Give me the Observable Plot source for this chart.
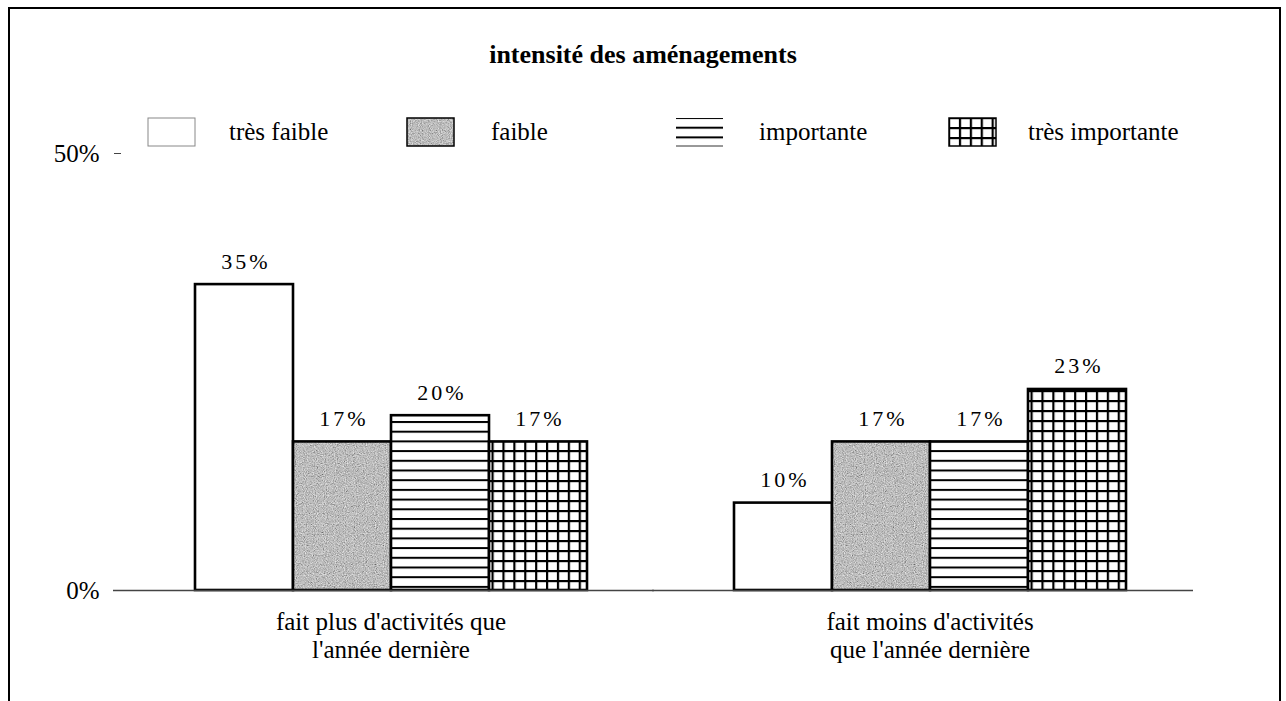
<!DOCTYPE html>
<html><head><meta charset="utf-8">
<script src="https://cdn.jsdelivr.net/npm/d3@7"></script>
<script src="https://cdn.jsdelivr.net/npm/@observablehq/plot@0.6"></script>
<style>
html,body{margin:0;padding:0;background:#fff;}
body{width:1286px;height:701px;overflow:hidden;position:relative;font-family:"Liberation Serif",serif;}
#frame{position:absolute;left:8px;top:7px;width:1269px;height:720px;border:2px solid #000;border-bottom:none;}
#title{position:absolute;left:0;top:40px;width:1286px;text-align:center;font-weight:bold;font-size:26px;line-height:30px;}
#legend{position:absolute;left:0;top:0;width:1286px;height:130px;}
.lg{position:absolute;font-size:25px;line-height:29px;white-space:nowrap;}
.sw{position:absolute;}
#chart{position:absolute;left:0;top:130px;}
</style></head>
<body>
<div id="frame"></div>
<div id="title">intensité des aménagements</div>
<div id="legend"></div>
<div id="chart"></div>
<script>
const categories = ["fait plus d'activités que\nl'année dernière", "fait moins d'activités\nque l'année dernière"];
const intensities = ["très faible", "faible", "importante", "très importante"];
const valuesPlus = [35, 17, 20, 17];
const valuesMoins = [10, 17, 17, 23];
const yTicks = [0, 50];

const data = [];
intensities.forEach((k, i) => data.push({cat: categories[0], intensity: k, value: valuesPlus[i]}));
intensities.forEach((k, i) => data.push({cat: categories[1], intensity: k, value: valuesMoins[i]}));

const patternIds = ["url(#p-white)", "url(#p-gray)", "url(#p-hlines)", "url(#p-grid)"];

const defs = `
<defs>
 <filter id="noise" x="0" y="0" width="100%" height="100%">
  <feTurbulence type="fractalNoise" baseFrequency="0.9" numOctaves="2" seed="7" result="t"/>
  <feColorMatrix in="t" type="matrix" values="0.6 0.6 0 0 -0.1  0.6 0.6 0 0 -0.1  0.6 0.6 0 0 -0.1  0 0 0 0 1"/>
 </filter>
 <pattern id="p-white" patternUnits="userSpaceOnUse" width="10" height="10"><rect width="10" height="10" fill="#fff"/></pattern>
 <pattern id="p-gray" patternUnits="userSpaceOnUse" width="200" height="200"><rect width="200" height="200" fill="#a8a8a8"/><rect width="200" height="200" filter="url(#noise)"/></pattern>
 <pattern id="p-hlines" patternUnits="userSpaceOnUse" width="20" height="9.7"><rect width="20" height="9.7" fill="#fff"/><rect y="0" width="20" height="2" fill="#000"/></pattern>
 <pattern id="p-grid" patternUnits="userSpaceOnUse" width="10.9" height="10"><rect width="10.9" height="10" fill="#fff"/><rect width="10.9" height="2.2" fill="#000"/><rect width="2.2" height="10" fill="#000"/></pattern>
</defs>`;

const font = "Liberation Serif, serif";

const plot = Plot.plot({
  width: 1286,
  height: 571,
  marginTop: 23,
  marginBottom: 111,
  marginLeft: 120,
  marginRight: 87,
  style: {fontFamily: font, fontSize: "25px", background: "transparent", color: "#000"},
  fx: {domain: categories, padding: 0, label: null},
  x: {domain: intensities, paddingInner: 0, paddingOuter: 0.74, axis: null},
  y: {domain: [0, 50], label: null},
  color: {type: "ordinal", domain: intensities, range: patternIds},
  marks: [
    Plot.axisFx({anchor: "bottom", tickSize: 0, tickPadding: 20, lineHeight: 1.1, fontSize: 25, label: null, textAnchor: "middle"}),
    Plot.axisY(yTicks, {tickFormat: d => d + "%", tickSize: 7, tickPadding: 15, fontSize: 25, stroke: "#444"}),
    Plot.barY(data, {fx: "cat", x: "intensity", y: "value", fill: "intensity", stroke: "#000", strokeWidth: 2.6}),
    Plot.text(data, {fx: "cat", x: "intensity", y: "value", text: d => d.value + "%", lineAnchor: "bottom", dy: -16, dx: 1.5, fontSize: 22, className: "vlab"}),
    Plot.ruleY([0], {stroke: "#444", strokeWidth: 1.3, insetLeft: -8, insetRight: 6})
  ]
});
plot.insertAdjacentHTML("afterbegin", defs);
plot.querySelectorAll(".vlab text").forEach(t => { t.style.letterSpacing = "3px"; });
document.getElementById("chart").appendChild(plot);

// legend
const legend = document.getElementById("legend");
const swX = [147, 406, 675, 948];
const txX = [229, 491, 759, 1028];
intensities.forEach((k, i) => {
  const svgNS = "http://www.w3.org/2000/svg";
  const s = document.createElementNS(svgNS, "svg");
  s.setAttribute("class", "sw");
  s.setAttribute("width", 50); s.setAttribute("height", 31);
  s.style.left = swX[i] + "px"; s.style.top = "117px";
  const r = document.createElementNS(svgNS, "rect");
  r.setAttribute("x", 1); r.setAttribute("y", 1); r.setAttribute("width", 47); r.setAttribute("height", 28);
  r.setAttribute("fill", patternIds[i]);
  r.setAttribute("stroke", i === 0 ? "#888" : (i === 2 ? "none" : "#000"));
  r.setAttribute("stroke-width", i === 0 ? 1 : 1.5);
  s.appendChild(r);
  if (i === 2) {
    const b = document.createElementNS(svgNS, "line");
    b.setAttribute("x1", 1); b.setAttribute("x2", 48); b.setAttribute("y1", 29); b.setAttribute("y2", 29);
    b.setAttribute("stroke", "#333"); b.setAttribute("stroke-width", 1);
    s.appendChild(b);
  }
  legend.appendChild(s);
  const t = document.createElement("div");
  t.className = "lg";
  t.textContent = k;
  t.style.left = txX[i] + "px"; t.style.top = "117px";
  legend.appendChild(t);
});
</script>
</body></html>
